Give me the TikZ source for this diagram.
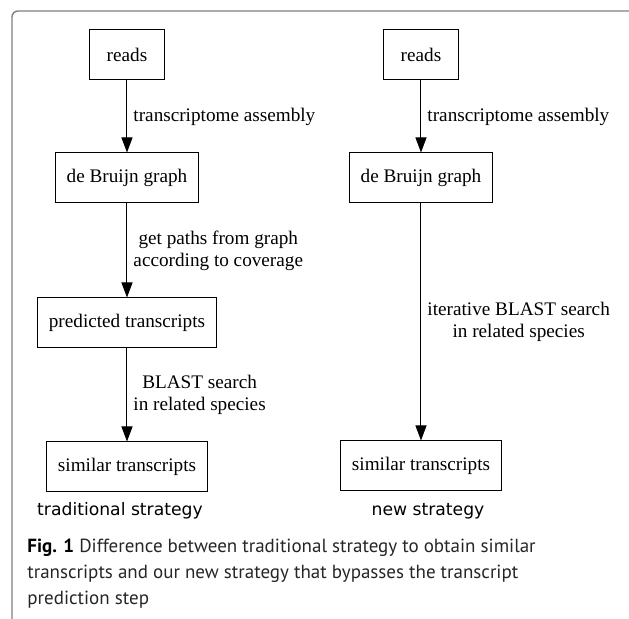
\documentclass[tikz,border=0pt]{standalone}
\usepackage{fontspec}
\setmainfont{Liberation Serif}
\newfontfamily\stratfont{DejaVu Sans}
\newfontfamily\capfont{PT Sans}
\usetikzlibrary{positioning, arrows.meta}

\begin{document}
\begin{tikzpicture}[
  x=0.5pt, y=-0.5pt,
  font=\fontsize{9.6}{11}\selectfont,
  box/.style={draw, line width=0.5pt, minimum width=37.5pt, minimum height=25pt, inner xsep=5.75pt},
  lbl/.style={align=center, inner sep=3pt},
  strat/.style={font=\stratfont\fontsize{8.6}{10}\selectfont},
  ar/.style={-{Triangle[length=7.5pt, width=5.5pt]}, line width=0.5pt}
]
  \useasboundingbox (0,0) rectangle (629,619);
  \draw[gray, line width=0.7pt, rounded corners=3pt] (12,619) |- (629,11);
  % traditional strategy
  \node[box] (readsL) at (127,55) {reads};
  \node[box, below=36pt of readsL] (dbgL) {de Bruijn graph};
  \node[box, below=47pt of dbgL] (predL) {predicted transcripts};
  \node[box, below=46.5pt of predL] (simL) {similar transcripts};
  \draw[ar] (readsL) -- node[lbl, right] {transcriptome assembly} (dbgL);
  \draw[ar] (dbgL) -- node[lbl, right] {get paths from graph\\ according to coverage} (predL);
  \draw[ar] (predL) -- node[lbl, right] {BLAST search\\ in related species} (simL);
  % new strategy
  \node[box] (readsR) at (421,55) {reads};
  \node[box, below=36pt of readsR] (dbgR) {de Bruijn graph};
  \node[box, below=118.5pt of dbgR] (simR) {similar transcripts};
  \draw[ar] (readsR) -- node[lbl, right] {transcriptome assembly} (dbgR);
  \draw[ar] (dbgR) -- node[lbl, right] {iterative BLAST search\\ in related species} (simR);
  \node[strat] (tradS) at (120,511) {traditional strategy};
  \node[strat] (newS) at (428,511) {new strategy};
  \node[anchor=north west, align=left, inner sep=0pt, text=black!85,
    font=\capfont\fontsize{9.5}{13}\selectfont] (cap) at (27,539)
    {\textbf{\color{black}Fig. 1} Difference between traditional strategy to obtain similar\\
     transcripts and our new strategy that bypasses the transcript\\
     prediction step};
\end{tikzpicture}
\end{document}
